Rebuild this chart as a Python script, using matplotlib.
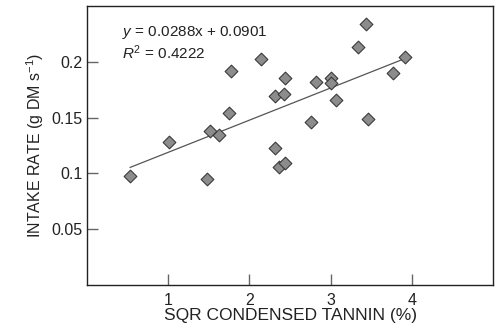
import numpy as np
import matplotlib.pyplot as plt

plt.rcParams['font.family'] = ['Liberation Sans', 'DejaVu Sans']
plt.rcParams['mathtext.fontset'] = 'custom'
plt.rcParams['mathtext.rm'] = 'Liberation Sans'
plt.rcParams['mathtext.it'] = 'Liberation Sans:italic'

# data
tannin = [0.53, 1.01, 1.48, 1.51, 1.63, 1.75, 1.77, 2.14, 2.31, 2.31,
          2.36, 2.43, 2.44, 2.44, 2.76, 2.82, 3.00, 3.00, 3.06, 3.34,
          3.44, 3.46, 3.77, 3.91]
intake = [0.098, 0.128, 0.095, 0.138, 0.134, 0.154, 0.192, 0.202, 0.169, 0.123,
          0.106, 0.171, 0.185, 0.109, 0.146, 0.182, 0.185, 0.181, 0.166, 0.213,
          0.234, 0.149, 0.190, 0.204]
slope = 0.0288
intercept = 0.0901
r2 = 0.4222

fig = plt.figure(figsize=(5.01, 3.28), dpi=100)
ax = fig.add_axes([0.174, 0.131, 0.810, 0.851])

xfit = np.array([min(tannin), max(tannin)])
ax.plot(xfit, slope * xfit + intercept, color='#555555', linewidth=0.9, zorder=2)
ax.scatter(tannin, intake, marker='D', s=42, facecolor='#8c8c8c',
           edgecolor='#3a3a3a', linewidth=0.8, zorder=3)

ax.text(0.43, 0.2265, r'$y$ = %.4fx + %.4f' % (slope, intercept),
        fontsize=11, color='#222222', va='center')
ax.text(0.43, 0.2085, r'$R^2$ = %.4f' % r2,
        fontsize=11, color='#222222', va='center')

ax.set_xlim(0, 5)
ax.set_ylim(0, 0.25)
ax.set_xticks([1, 2, 3, 4])
ax.set_xticklabels(['1', '2', '3', '4'])
ax.set_yticks([0.05, 0.1, 0.15, 0.2])
ax.set_yticklabels(['0.05', '0.1', '0.15', '0.2'])
ax.tick_params(direction='in', length=8, width=1, color='#666666',
               labelsize=11.5, labelcolor='#222222')
ax.tick_params(axis='x', pad=6)

for s in ax.spines.values():
    s.set_linewidth(1)
    s.set_color('#222222')

ax.set_xlabel('SQR CONDENSED TANNIN (%)', fontsize=12.5, color='#222222', labelpad=0)
ax.set_ylabel(r'INTAKE RATE (g DM s$^{-1}$)', fontsize=11.5, color='#222222', labelpad=4)

fig.savefig('out.png', dpi=100)
